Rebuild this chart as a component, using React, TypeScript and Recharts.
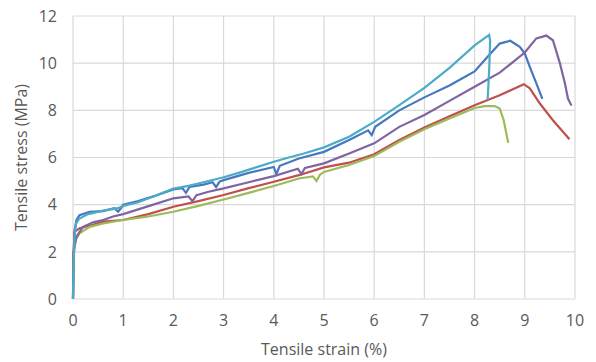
import React from 'react';
import { LineChart, Line, XAxis, YAxis, CartesianGrid, Label } from 'recharts';

// strain (%) and stress (MPa) per specimen
const blueStrain = [0, 0.01, 0.03, 0.07, 0.13, 0.33, 0.6, 0.82, 0.9, 0.98, 1.0, 1.3, 1.6, 2.0, 2.18, 2.25, 2.32, 2.6, 2.78, 2.85, 2.92, 3.0, 3.5, 4.0, 4.05, 4.12, 4.5, 5.0, 5.5, 5.88, 5.95, 6.02, 6.5, 7.0, 7.5, 8.0, 8.25, 8.5, 8.71, 8.9, 9.0, 9.1, 9.23, 9.35];
const blueStress = [0, 1.5, 2.9, 3.35, 3.55, 3.7, 3.73, 3.85, 3.7, 3.92, 4.0, 4.15, 4.35, 4.65, 4.7, 4.5, 4.75, 4.85, 4.95, 4.75, 4.98, 5.04, 5.35, 5.6, 5.3, 5.65, 5.96, 6.24, 6.74, 7.15, 6.95, 7.3, 8.0, 8.55, 9.05, 9.65, 10.25, 10.83, 10.95, 10.69, 10.41, 9.84, 9.14, 8.49];

const redStrain = [0, 0.01, 0.03, 0.13, 0.4, 0.6, 1.0, 1.5, 2.0, 2.5, 3.0, 3.5, 4.0, 4.5, 5.0, 5.5, 6.0, 6.5, 7.0, 7.5, 8.0, 8.5, 8.98, 9.1, 9.3, 9.56, 9.89];
const redStress = [0, 1.8, 2.85, 3.0, 3.15, 3.28, 3.35, 3.6, 3.91, 4.15, 4.41, 4.7, 4.97, 5.25, 5.58, 5.78, 6.14, 6.74, 7.27, 7.75, 8.22, 8.64, 9.11, 8.93, 8.29, 7.58, 6.77];

const greenStrain = [0, 0.01, 0.05, 0.13, 0.33, 0.6, 1.0, 1.5, 2.0, 2.5, 3.0, 3.5, 4.0, 4.5, 4.78, 4.85, 4.92, 5.0, 5.5, 6.0, 6.5, 7.0, 7.5, 8.0, 8.2, 8.4, 8.5, 8.58, 8.67];
const greenStress = [0, 1.8, 2.5, 2.78, 3.06, 3.2, 3.35, 3.5, 3.7, 3.95, 4.22, 4.5, 4.79, 5.11, 5.2, 5.0, 5.27, 5.39, 5.68, 6.06, 6.67, 7.2, 7.65, 8.1, 8.18, 8.18, 8.08, 7.58, 6.62];

const purpleStrain = [0, 0.01, 0.07, 0.2, 0.4, 0.6, 0.8, 1.0, 1.3, 1.6, 2.0, 2.3, 2.38, 2.46, 2.7, 3.0, 3.5, 4.0, 4.48, 4.55, 4.62, 5.0, 5.5, 6.0, 6.5, 7.0, 7.5, 8.0, 8.5, 9.0, 9.23, 9.43, 9.56, 9.7, 9.8, 9.86, 9.93];
const purpleStress = [0, 2.0, 2.64, 3.06, 3.25, 3.35, 3.5, 3.6, 3.8, 4.0, 4.27, 4.35, 4.15, 4.4, 4.55, 4.69, 4.95, 5.21, 5.52, 5.3, 5.56, 5.75, 6.17, 6.6, 7.3, 7.8, 8.4, 9.0, 9.6, 10.45, 11.05, 11.17, 10.97, 9.99, 9.14, 8.5, 8.2];

const cyanStrain = [0, 0.01, 0.03, 0.06, 0.12, 0.3, 0.6, 0.9, 1.0, 1.3, 1.6, 2.0, 2.3, 2.6, 3.0, 3.3, 3.6, 4.0, 4.3, 4.6, 5.0, 5.5, 6.0, 6.5, 7.0, 7.5, 8.0, 8.29, 8.31, 8.29, 8.26];
const cyanStress = [0, 1.2, 2.6, 3.2, 3.4, 3.6, 3.75, 3.85, 3.95, 4.1, 4.35, 4.68, 4.8, 4.95, 5.16, 5.35, 5.55, 5.82, 6.0, 6.17, 6.43, 6.88, 7.51, 8.22, 8.95, 9.8, 10.75, 11.2, 10.95, 9.7, 8.46];

const xTicks = [0, 1, 2, 3, 4, 5, 6, 7, 8, 9, 10];
const yTicks = [0, 2, 4, 6, 8, 10, 12];

const zip = (xs: number[], ys: number[]) => xs.map((x, i) => ({ strain: x, stress: ys[i] }));

const series = [
  { name: 'blue', color: '#4677bf', data: zip(blueStrain, blueStress) },
  { name: 'red', color: '#c0504d', data: zip(redStrain, redStress) },
  { name: 'green', color: '#9bbb59', data: zip(greenStrain, greenStress) },
  { name: 'purple', color: '#8064a2', data: zip(purpleStrain, purpleStress) },
  { name: 'cyan', color: '#4bacc6', data: zip(cyanStrain, cyanStress) },
];

const font = { fontFamily: '"Open Sans", sans-serif', fontSize: 16, fill: '#595959' };

export default function App() {
  return (
    <div style={{ position: 'absolute', left: 0, top: 0, background: '#fff' }}>
      <LineChart width={596} height={362} margin={{ top: 16, right: 21, bottom: 0, left: 0 }}>
        <CartesianGrid stroke='#d9d9d9' strokeWidth={1.2} />
        <XAxis
          type='number'
          dataKey='strain'
          domain={[0, 10]}
          ticks={xTicks}
          height={63}
          axisLine={false}
          tickLine={false}
          tickSize={0}
          tickMargin={16}
          tick={font}
        >
          <Label value='Tensile strain (%)' position='insideBottom' offset={7} style={font} />
        </XAxis>
        <YAxis
          type='number'
          dataKey='stress'
          domain={[0, 12]}
          ticks={yTicks}
          width={73}
          axisLine={false}
          tickLine={false}
          tickSize={0}
          tickMargin={16}
          tick={font}
        >
          <Label
            value='Tensile stress (MPa)'
            position='insideLeft'
            angle={-90}
            offset={21}
            style={{ ...font, textAnchor: 'middle' }}
          />
        </YAxis>
        {series.map((s) => (
          <Line
            key={s.name}
            data={s.data}
            dataKey='stress'
            type='linear'
            stroke={s.color}
            strokeWidth={2.2}
            dot={false}
            isAnimationActive={false}
          />
        ))}
      </LineChart>
    </div>
  );
}
